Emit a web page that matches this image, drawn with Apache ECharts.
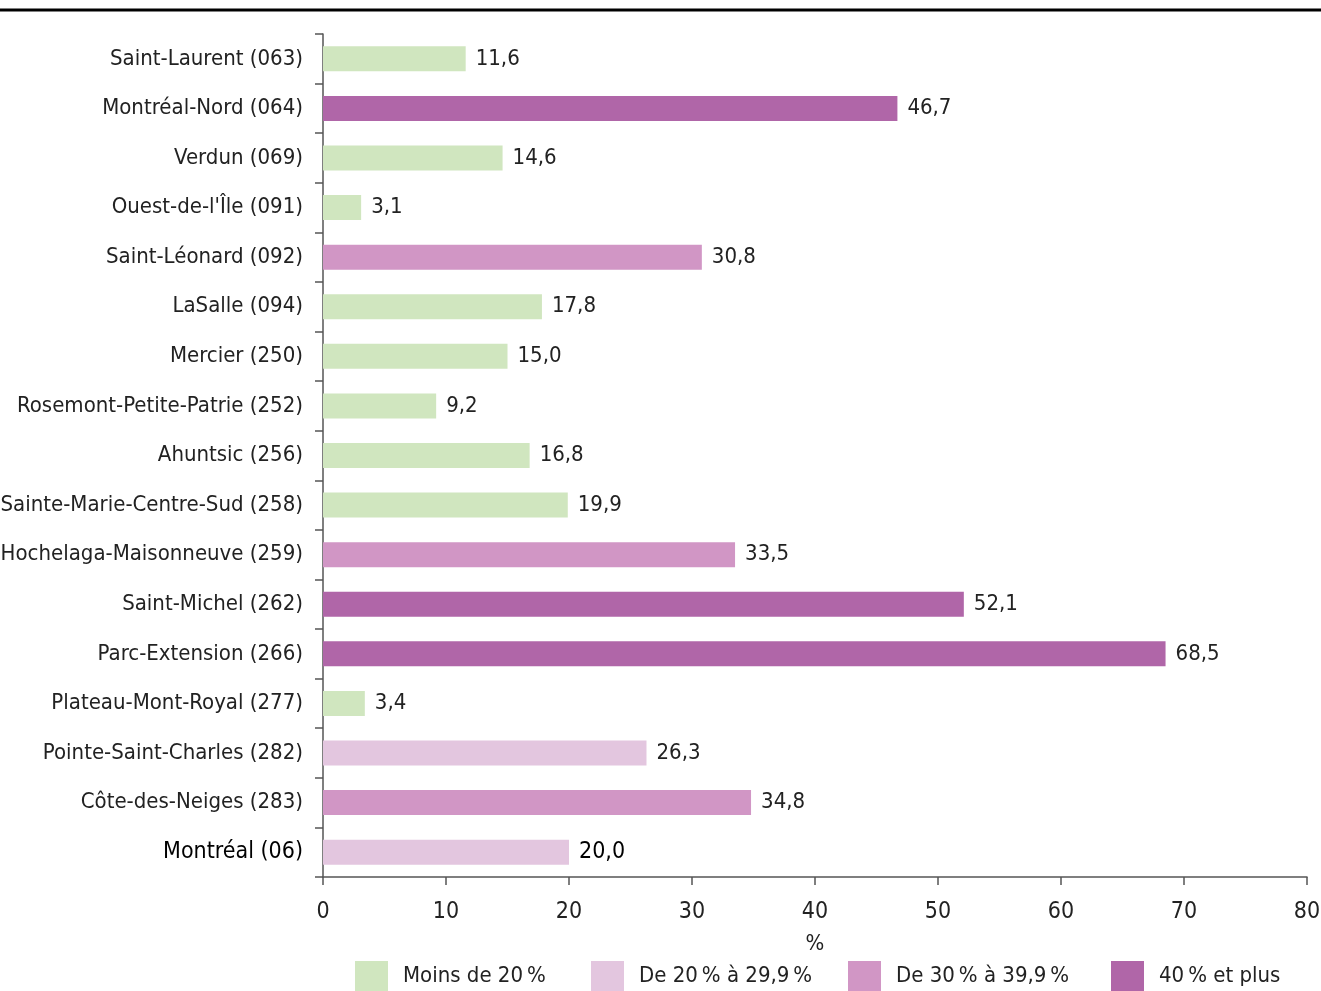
<!DOCTYPE html>
<html><head><meta charset="utf-8">
<script src="https://cdn.jsdelivr.net/npm/echarts@6/dist/echarts.min.js"></script>
<style>html,body{margin:0;padding:0;background:#fff}#c{width:1321px;height:991px}</style>
</head><body><div id="c"></div>
<script>
const categories = ["Saint-Laurent (063)","Montréal-Nord (064)","Verdun (069)","Ouest-de-l'Île (091)","Saint-Léonard (092)","LaSalle (094)","Mercier (250)","Rosemont-Petite-Patrie (252)","Ahuntsic (256)","Sainte-Marie-Centre-Sud (258)","Hochelaga-Maisonneuve (259)","Saint-Michel (262)","Parc-Extension (266)","Plateau-Mont-Royal (277)","Pointe-Saint-Charles (282)","Côte-des-Neiges (283)","Montréal (06)"];
const values = [11.6,46.7,14.6,3.1,30.8,17.8,15.0,9.2,16.8,19.9,33.5,52.1,68.5,3.4,26.3,34.8,20.0];
const classNames = ["Moins de 20\u202f%","De 20\u202f% à 29,9\u202f%","De 30\u202f% à 39,9\u202f%","40\u202f% et plus"];
const classLimits = [20,30,40];
const xTicks = [0,10,20,30,40,50,60,70,80];
const colors = ['#d0e6bf','#e3c6df','#d196c5','#b066a8'];
const legendLeft = [355,591,848,1111];
const FONT = "'Liberation Sans Narrow','DejaVu Sans Condensed','Roboto Condensed','Arial Narrow',sans-serif";
function cls(v){let i=0;while(i<classLimits.length&&v>=classLimits[i])i++;return i;}
const series = classNames.map((n,k)=>({
  name:n, type:'bar', stack:'s', barWidth:25,
  itemStyle:{color:colors[k]},
  data: values.map((v,i)=>cls(v)===k?v:'-'),
  label:{show:true,position:'right',distance:10,fontFamily:FONT,fontSize:22,color:'#222',
    formatter:p=>{const t=p.value.toFixed(1).replace('.',',');return p.dataIndex===categories.length-1?'{b|'+t+'}':t;},
    rich:{b:{fontFamily:FONT,fontSize:23,color:'#000'}}}
}));
const chart = echarts.init(document.getElementById('c'));
chart.setOption({
  animation:false,
  grid:{left:323,right:14,top:34,bottom:114,containLabel:false,outerBoundsMode:'none'},
  graphic:[{type:'line',shape:{x1:0,y1:10,x2:1321,y2:10},style:{stroke:'#000',lineWidth:3}}],
  legend:classNames.map((n,k)=>({top:961,left:legendLeft[k],padding:0,itemWidth:33,itemHeight:30,icon:'rect',
    textStyle:{fontFamily:FONT,fontSize:22,color:'#222',padding:[0,0,0,10]},data:[n]})),
  xAxis:{type:'value',min:0,max:80,interval:10,
    name:'%',nameLocation:'middle',nameGap:56,nameTextStyle:{fontFamily:FONT,fontSize:22,color:'#222'},
    axisLine:{show:true,lineStyle:{color:'#555',width:1.5}},
    axisTick:{show:true,length:8,lineStyle:{color:'#555',width:1.5}},
    splitLine:{show:false},
    axisLabel:{fontFamily:FONT,fontSize:23,color:'#222',margin:24,formatter:v=>xTicks.includes(v)?String(v):''}},
  yAxis:{type:'category',data:categories,inverse:true,
    axisLine:{show:true,lineStyle:{color:'#555',width:1.5}},
    axisTick:{show:true,length:8,lineStyle:{color:'#555',width:1.5}},
    axisLabel:{fontFamily:FONT,fontSize:22,color:'#222',margin:20,
      formatter:(v,i)=>i===categories.length-1?'{b|'+v+'}':v,
      rich:{b:{fontFamily:FONT,fontSize:23,color:'#000'}}}},
  series:series
});
</script></body></html>
